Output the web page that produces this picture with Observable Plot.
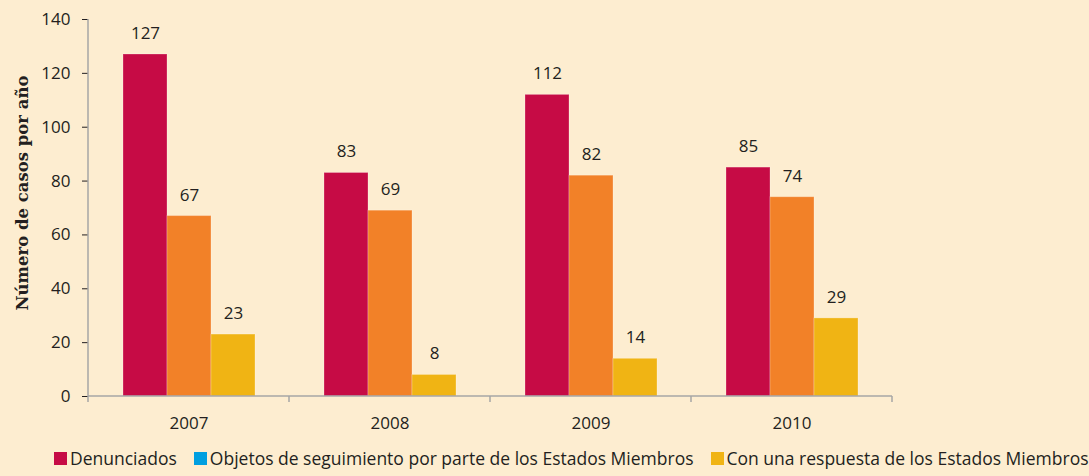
<!DOCTYPE html>
<html>
<head>
<meta charset="utf-8">
<script src="https://cdn.jsdelivr.net/npm/d3@7"></script>
<script src="https://cdn.jsdelivr.net/npm/@observablehq/plot@0.6"></script>
<style>
  html, body { margin: 0; padding: 0; background: #fdedd0; }
  body { width: 1089px; height: 476px; overflow: hidden; font-family: "Open Sans", sans-serif; color: #231f20; }
  #chart svg { display: block; background: #fdedd0; }
  g[aria-label="y-axis tick"] { stroke: #a6a6a6; }
  .legend { display: flex; align-items: center; height: 36px; padding-left: 54px; font-size: 17.5px; white-space: nowrap; }
  .legend .item { display: flex; align-items: center; margin-right: 17px; }
  .legend .sw { width: 13px; height: 13px; margin-right: 3px; display: inline-block; }
</style>
</head>
<body>
<div id="chart"></div>
<div class="legend" id="legend"></div>
<script>
const years = ["2007", "2008", "2009", "2010"];
const series = ["Denunciados", "Objetos de seguimiento por parte de los Estados Miembros", "Con una respuesta de los Estados Miembros"];
const denunciados = [127, 83, 112, 85];
const objetos = [67, 69, 82, 74];
const respuesta = [23, 8, 14, 29];
const barColors = ["#c60b45", "#f28128", "#f0b414"];
const legendColors = ["#c60b45", "#009fe0", "#f0b414"];
const yTicks = [0, 20, 40, 60, 80, 100, 120, 140];

const valuesBySeries = [denunciados, objetos, respuesta];
const data = [];
years.forEach((yr, i) => series.forEach((s, j) => data.push({year: yr, series: s, value: valuesBySeries[j][i]})));

const plot = Plot.plot({
  width: 1089,
  height: 440,
  marginLeft: 87,
  marginRight: 197,
  marginTop: 19,
  marginBottom: 44,
  style: { fontFamily: "Open Sans, sans-serif", fontSize: "17px", color: "#231f20", background: "#fdedd0" },
  fx: { domain: years, padding: 0, label: null, tickSize: 0, tickPadding: 20 },
  x: { domain: series, paddingInner: 0, paddingOuter: 0.75, axis: null },
  y: { domain: [0, 140], ticks: yTicks, tickSize: 6, tickPadding: 12, label: "Número de casos por año", labelAnchor: "center", labelOffset: 72, labelArrow: "none" },
  color: { domain: series, range: barColors },
  marks: [
    Plot.barY(data, { fx: "year", x: "series", y: "value", fill: "series", stroke: "#ffffff", strokeOpacity: 0.25, strokeWidth: 1 }),
    Plot.text(data, { fx: "year", x: "series", y: "value", text: d => String(d.value), dy: -21, fill: "#231f20", fontSize: 17 })
  ]
});

document.getElementById("chart").appendChild(plot);

const svg = d3.select(plot);
// y-axis title styling
svg.selectAll('g[aria-label="y-axis label"] text')
  .attr("dx", 15)
  .style("font-family", "'DejaVu Serif', serif")
  .style("font-weight", "bold")
  .style("font-size", "16.5px")
  .style("fill", "#231f20");

// Excel-style axis lines and category boundary ticks, placed with the plot's own scales
const fx = plot.scale("fx");
const y = plot.scale("y");
const y0 = y.apply(0), yTop = y.apply(140);
const left = fx.apply(years[0]);
const right = fx.apply(years[years.length - 1]) + fx.bandwidth;
const g = svg.append("g").attr("stroke", "#a6a6a6").attr("stroke-width", 1.5).attr("fill", "none");
g.append("line").attr("x1", left).attr("x2", left).attr("y1", yTop).attr("y2", y0);
g.append("line").attr("x1", left).attr("x2", right).attr("y1", y0).attr("y2", y0);
const bounds = years.map(yr => fx.apply(yr)).concat([right]);
bounds.forEach(b => g.append("line").attr("x1", b).attr("x2", b).attr("y1", y0).attr("y2", y0 + 6));

// Legend (as printed in the source)
const legend = document.getElementById("legend");
series.forEach((s, j) => {
  const item = document.createElement("span");
  item.className = "item";
  const sw = document.createElement("span");
  sw.className = "sw";
  sw.style.background = legendColors[j];
  item.appendChild(sw);
  item.appendChild(document.createTextNode(s));
  legend.appendChild(item);
});
</script>
</body>
</html>
